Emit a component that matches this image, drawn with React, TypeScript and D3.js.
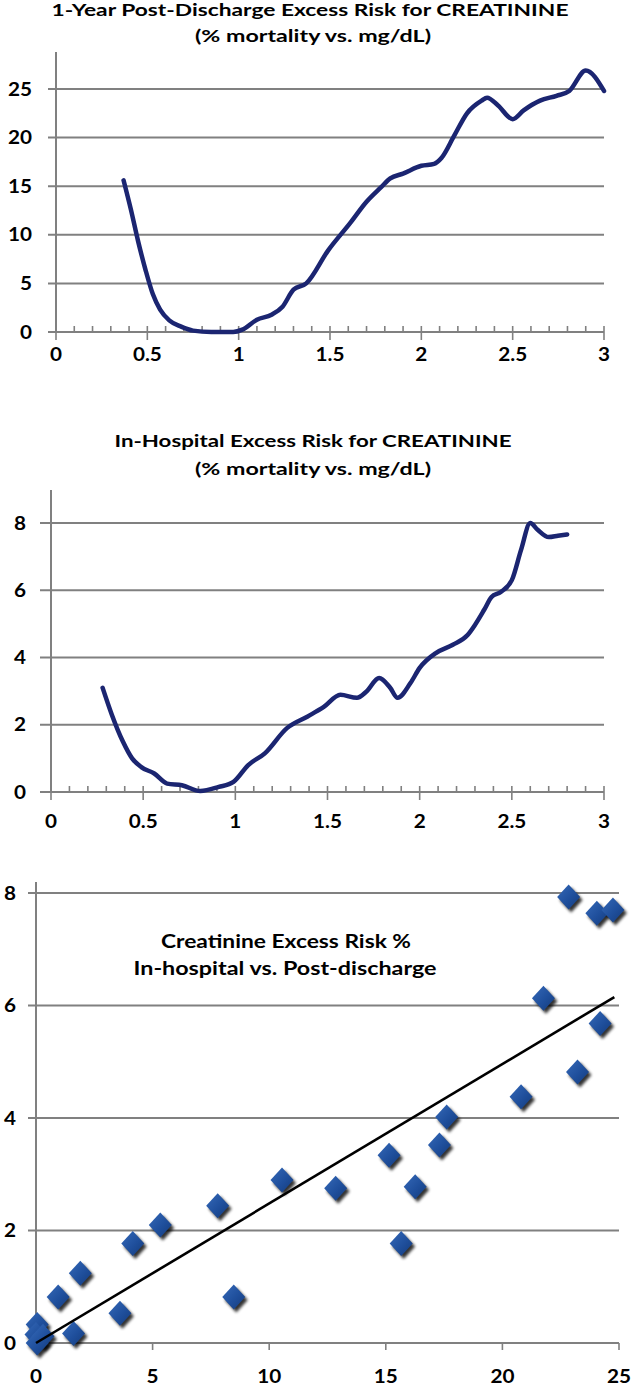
import React from "react";
import * as d3 from "d3";

// ---------- Data ----------
const C1_X = [0.37, 0.41, 0.45, 0.49, 0.53, 0.57, 0.62, 0.685, 0.75, 0.85, 0.97, 1.02, 1.1, 1.18, 1.24, 1.3, 1.37, 1.49, 1.61, 1.7, 1.78, 1.83, 1.9, 2.0, 2.07, 2.11, 2.18, 2.25, 2.33, 2.36, 2.42, 2.5, 2.56, 2.65, 2.74, 2.81, 2.9, 3.0];
const C1_Y = [15.6, 12.6, 9.3, 6.4, 3.9, 2.3, 1.2, 0.55, 0.14, 0.0, 0.0, 0.24, 1.27, 1.78, 2.6, 4.35, 5.0, 8.4, 11.2, 13.4, 14.9, 15.8, 16.3, 17.1, 17.3, 17.9, 20.2, 22.5, 23.8, 24.1, 23.3, 21.9, 22.8, 23.8, 24.3, 24.8, 26.9, 24.8];

const C2_X = [0.28, 0.33, 0.39, 0.44, 0.49, 0.56, 0.63, 0.71, 0.81, 0.91, 0.99, 1.07, 1.16, 1.28, 1.39, 1.48, 1.57, 1.66, 1.71, 1.78, 1.84, 1.88, 1.95, 2.0, 2.09, 2.18, 2.26, 2.3, 2.35, 2.39, 2.44, 2.5, 2.55, 2.6, 2.64, 2.7, 2.75, 2.8];
const C2_Y = [3.1, 2.3, 1.5, 1.0, 0.74, 0.55, 0.25, 0.2, 0.03, 0.15, 0.3, 0.8, 1.15, 1.9, 2.24, 2.53, 2.89, 2.8, 2.98, 3.39, 3.1, 2.8, 3.24, 3.69, 4.14, 4.38, 4.67, 4.97, 5.42, 5.8, 5.95, 6.3, 7.2, 8.0, 7.8, 7.58, 7.62, 7.66];

const SC_X = [22.84, 24.05, 24.74, 21.76, 24.19, 23.22, 20.8, 17.61, 17.3, 15.14, 16.26, 12.85, 10.55, 7.79, 5.33, 4.15, 15.66, 1.9, 0.95, 8.48, 3.6, 1.61, 0.05, 0.0, 0.3, 0.05];
const SC_Y = [7.93, 7.64, 7.7, 6.13, 5.68, 4.82, 4.38, 4.02, 3.52, 3.34, 2.78, 2.75, 2.9, 2.44, 2.1, 1.77, 1.77, 1.24, 0.82, 0.82, 0.53, 0.17, 0.33, 0.15, 0.12, 0.0];

const TREND_X = [0, 24.8];
const TREND_Y = [0, 6.15];

const C1_YTICKS = [0, 5, 10, 15, 20, 25];
const C2_YTICKS = [0, 2, 4, 6, 8];
const C3_YTICKS = [0, 2, 4, 6, 8];
const C12_XTICKS = [0, 0.5, 1, 1.5, 2, 2.5, 3];
const C3_XTICKS = [0, 5, 10, 15, 20, 25];

const TITLE1 = ["1-Year Post-Discharge Excess Risk for CREATININE", "(% mortality vs. mg/dL)"];
const TITLE2 = ["In-Hospital Excess Risk for CREATININE", "(% mortality vs. mg/dL)"];
const TITLE3 = ["Creatinine Excess Risk %", "In-hospital vs. Post-discharge"];

// ---------- Styles ----------
const FONT = "Lato, 'Open Sans', sans-serif";
const GRID = "#808080";
const LINE = "#1b2571";
const SX = 1.15;

function Label({ x, y, text, anchor = "middle", size = 18 }) {
  return (
    <text
      transform={`translate(${x},${y}) scale(${SX},1)`}
      textAnchor={anchor}
      fontFamily={FONT}
      fontWeight={700}
      fontSize={size}
      fill="#000"
    >
      {text}
    </text>
  );
}

function Title({ x, y, text, len, size = 17 }) {
  return (
    <text
      x={x}
      y={y}
      textAnchor="middle"
      fontFamily={FONT}
      fontWeight={700}
      fontSize={size}
      textLength={len}
      lengthAdjust="spacingAndGlyphs"
      fill="#000"
    >
      {text}
    </text>
  );
}

function LineChart({ xs, ys, x0, x1, yBottom, yTop, yMax, axisTop, gridLeft, yLabelRight, xLabelY, yTicks }) {
  const x = d3.scaleLinear().domain([0, 3]).range([x0, x1]);
  const y = d3.scaleLinear().domain([0, yMax]).range([yBottom, yTop]);
  const pts = xs.map((v, i) => [x(v), y(ys[i])]);
  const path = d3.line().curve(d3.curveMonotoneX)(pts);
  const minor = d3.range(0, 31).map((i) => i / 10);
  return (
    <g>
      {yTicks.map((t) => (
        <line key={"g" + t} x1={gridLeft} x2={x1} y1={y(t)} y2={y(t)} stroke={GRID} strokeWidth={2} />
      ))}
      <line x1={x0} x2={x0} y1={axisTop} y2={yBottom} stroke={GRID} strokeWidth={2} />
      {minor.map((t, i) => {
        const major = i % 5 === 0;
        return (
          <line
            key={"m" + i}
            x1={x(t)}
            x2={x(t)}
            y1={yBottom - 6}
            y2={major ? yBottom + 8 : yBottom}
            stroke={GRID}
            strokeWidth={1.6}
          />
        );
      })}
      <path d={path} fill="none" stroke={LINE} strokeWidth={4.5} strokeLinecap="round" strokeLinejoin="round" />
      {yTicks.map((t) => (
        <Label key={"yl" + t} x={yLabelRight} y={y(t) + 6.5} text={String(t)} anchor="end" />
      ))}
      {C12_XTICKS.map((t) => (
        <Label key={"xl" + t} x={x(t)} y={xLabelY} text={String(t)} />
      ))}
    </g>
  );
}

function Scatter() {
  const x = d3.scaleLinear().domain([0, 25]).range([36, 619]);
  const y = d3.scaleLinear().domain([0, 8]).range([1343, 893]);
  const hw = 11.5;
  const hh = 12.5;
  const diamond = (cx, cy) => `M${cx},${cy - hh}L${cx + hw},${cy}L${cx},${cy + hh}L${cx - hw},${cy}Z`;
  const trend = d3.line()(TREND_X.map((v, i) => [x(v), y(TREND_Y[i])]));
  return (
    <g>
      <defs>
        <linearGradient id="dg" x1="0" y1="0" x2="1" y2="1">
          <stop offset="0" stopColor="#3569b8" />
          <stop offset="0.55" stopColor="#1f4f9c" />
          <stop offset="1" stopColor="#143b7c" />
        </linearGradient>
        <filter id="sh" x="-50%" y="-50%" width="200%" height="200%">
          <feGaussianBlur stdDeviation="1.6" />
        </filter>
      </defs>
      {C3_YTICKS.map((t) => (
        <line key={"g" + t} x1={28} x2={619} y1={y(t)} y2={y(t)} stroke={GRID} strokeWidth={2} />
      ))}
      <line x1={36} x2={36} y1={882} y2={1343} stroke={GRID} strokeWidth={2} />
      {C3_XTICKS.map((t) => (
        <line key={"xt" + t} x1={x(t)} x2={x(t)} y1={1343} y2={1350} stroke={GRID} strokeWidth={1.6} />
      ))}
      {SC_X.map((v, i) => (
        <path key={"s" + i} d={diamond(x(v) + 2.5, y(SC_Y[i]) + 3)} fill="#000" opacity={0.8} filter="url(#sh)" />
      ))}
      {SC_X.map((v, i) => (
        <path key={"d" + i} d={diamond(x(v), y(SC_Y[i]))} fill="url(#dg)" />
      ))}
      <path d={trend} stroke="#000" strokeWidth={2.6} fill="none" />
      {C3_YTICKS.map((t) => (
        <Label key={"yl" + t} x={16} y={y(t) + 6.5} text={String(t)} anchor="end" />
      ))}
      {C3_XTICKS.map((t) => (
        <Label key={"xl" + t} x={x(t)} y={1383} text={String(t)} />
      ))}
      <Title x={286} y={948} text={TITLE3[0]} len={250} size={18} />
      <Title x={285} y={975} text={TITLE3[1]} len={303} size={18} />
    </g>
  );
}

export default function App() {
  return (
    <svg
      width={632}
      height={1387}
      style={{ position: "absolute", left: 0, top: 0, background: "#fff" }}
    >
      <rect width={632} height={1387} fill="#fff" />
      <Title x={310} y={16} text={TITLE1[0]} len={517} />
      <Title x={313} y={42} text={TITLE1[1]} len={236} />
      <LineChart
        xs={C1_X}
        ys={C1_Y}
        x0={56}
        x1={604}
        yBottom={332}
        yTop={89}
        yMax={25}
        axisTop={52}
        gridLeft={48}
        yLabelRight={32}
        xLabelY={361}
        yTicks={C1_YTICKS}
      />
      <Title x={313} y={447} text={TITLE2[0]} len={397} />
      <Title x={313} y={475} text={TITLE2[1]} len={236} />
      <LineChart
        xs={C2_X}
        ys={C2_Y}
        x0={51}
        x1={604}
        yBottom={792}
        yTop={523}
        yMax={8}
        axisTop={490}
        gridLeft={40}
        yLabelRight={26}
        xLabelY={828}
        yTicks={C2_YTICKS}
      />
      <Scatter />
    </svg>
  );
}
